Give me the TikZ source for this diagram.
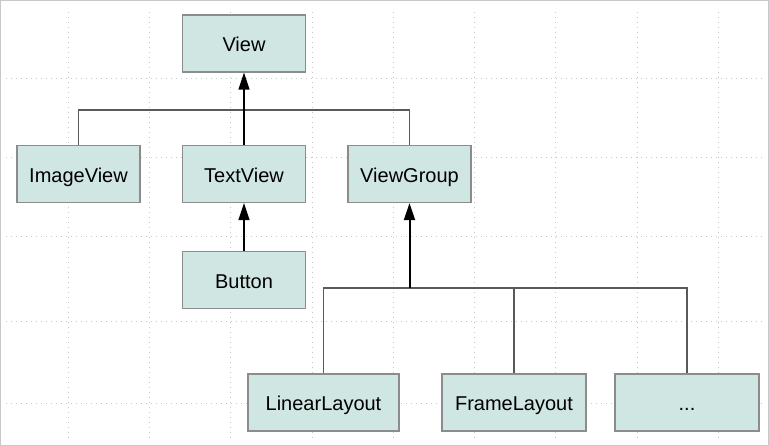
\documentclass[tikz,border=0pt]{standalone}
\usepackage{fontspec}
\setmainfont{Liberation Sans}
\usetikzlibrary{arrows.meta}
\definecolor{boxfill}{HTML}{CFE6E3}
\definecolor{boxline}{HTML}{8C8C8C}
\definecolor{siatka}{HTML}{C8C8C8}
\tikzset{
	klasa/.style={draw=boxline, fill=boxfill, line width=1.2pt, minimum width=123pt, minimum height=57pt, inner sep=0pt, text height=18pt, text depth=1pt, font=\fontsize{20}{24}\selectfont},
	dziedz/.style={-{Triangle[length=17pt,width=11pt]}, line width=1.3pt},
	szyna/.style={draw=black!65, line width=1.1pt},
}
\begin{document}
\begin{tikzpicture}[x=1pt,y=-1pt]
	\useasboundingbox (0,0) rectangle (769,446);
	\draw[siatka, line width=1pt] (0.5,0.5) rectangle (768.5,445.5);

	% siatka w tle
	\foreach \x in {68,149,230,312,393,474,555,637,718} {{
	     \draw[siatka, line width=0.9pt, dash pattern=on 1pt off 4pt] (\x,12) -- (\x,440);
 	}}
	\foreach \y in {78,157,236,321,403} {{
	     \draw[siatka, line width=0.9pt, dash pattern=on 1pt off 4pt] (6,\y) -- (762,\y);
 	}}

	% klasy
	\node[klasa] (view) at (244,43.5) {View};
	\node[klasa] (imageview) at (78.5,174) {ImageView};
	\node[klasa] (textview) at (244,174) {TextView};
	\node[klasa] (viewgroup) at (409.5,174) {ViewGroup};
	\node[klasa] (button) at (244,280) {Button};
	\node[klasa, minimum width=151pt] (linear) at (323.5,402.5) {LinearLayout};
	\node[klasa, minimum width=144pt] (frame) at (514,402.5) {FrameLayout};
	\node[klasa, minimum width=144pt] (dots) at (687,402.5) {...};

	% koniec klas

	\coordinate (szynaA) at (244,110);
	\coordinate (szynaB) at (409.5,288);
	\draw[szyna] (imageview.north) |- (viewgroup.north |- szynaA) -- (viewgroup.north);
	\draw[dziedz] (textview.north) -- (view.south);
	\draw[dziedz] (button.north) -- (textview.south);
	\draw[szyna] (linear.north) |- (dots.north |- szynaB) -- (dots.north);
	\draw[szyna] (frame.north) -- (frame.north |- szynaB);
	\draw[dziedz, line width=2pt] (szynaB) -- (viewgroup.south);
\end{tikzpicture}
\end{document}
